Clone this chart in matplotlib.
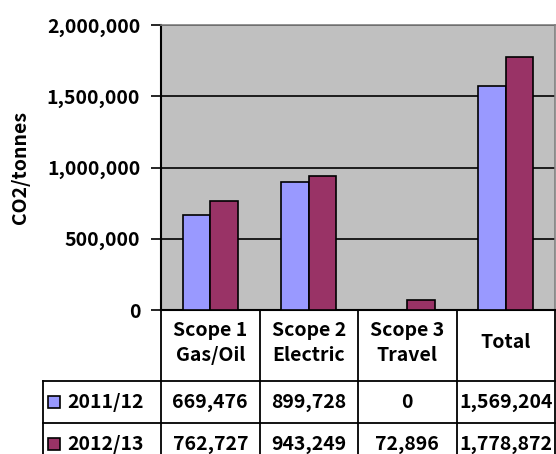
import matplotlib
matplotlib.use("Agg")
import matplotlib.pyplot as plt
from matplotlib.patches import Rectangle
import numpy as np

categories = ["Scope 1\nGas/Oil", "Scope 2\nElectric", "Scope 3\nTravel", "Total"]
series_names = ["2011/12", "2012/13"]
values_2011 = [669476, 899728, 0, 1569204]
values_2012 = [762727, 943249, 72896, 1778872]
yticks = [0, 500000, 1000000, 1500000, 2000000]
ylabel = "CO2/tonnes"

colors = ["#9999FF", "#993366"]
FONT = ["Noto Sans CJK SC", "DejaVu Sans"]
FS = 14

W, H = 556, 454
fig = plt.figure(figsize=(W / 100, H / 100), dpi=100)
L, R, T, B = 161, 555, 25, 310
ax = fig.add_axes([L / W, 1 - B / H, (R - L) / W, (B - T) / H])
ax.set_facecolor("#C0C0C0")

x = np.arange(len(categories))
bw = 0.28
ax.bar(x - bw / 2, values_2011, bw, color=colors[0], edgecolor="black", linewidth=1.2, zorder=3)
ax.bar(x + bw / 2, values_2012, bw, color=colors[1], edgecolor="black", linewidth=1.2, zorder=3)
ax.set_xlim(-0.5, len(categories) - 0.5)
ax.set_ylim(0, 2000000)
ax.set_yticks(yticks)
ax.set_yticklabels([f"{v:,}" for v in yticks], fontfamily=FONT, fontweight="bold", fontsize=FS)
ax.yaxis.grid(True, color="black", linewidth=1.2, zorder=1)
ax.set_xticks([])
ax.tick_params(axis="y", length=7, width=1.2, pad=8)
for s in ["top", "right"]:
    ax.spines[s].set_color("#808080")
    ax.spines[s].set_linewidth(1.2)
ax.spines["left"].set_linewidth(1.5)
ax.spines["bottom"].set_linewidth(1.5)
ax.set_ylabel(ylabel, fontfamily=FONT, fontweight="bold", fontsize=14, labelpad=12)

# data table below the plot (x in data units, y in axes units)
tr = ax.get_xaxis_transform()
ppu = B - T  # pixels per axes unit in y
def yax(py):
    return -(py - B) / ppu
px_per_x = (R - L) / len(categories)
leg_left = -0.5 - (L - 43) / px_per_x
y_head_bot = yax(381)
y_row1_bot = yax(423)
y_bot = yax(470)
lw = 1.3
for i in range(len(categories) + 1):
    ax.plot([i - 0.5, i - 0.5], [0, y_bot], transform=tr, color="black", lw=lw, clip_on=False)
ax.plot([leg_left, leg_left], [y_head_bot, y_bot], transform=tr, color="black", lw=lw, clip_on=False)
for yy in [y_head_bot, y_row1_bot]:
    ax.plot([leg_left, len(categories) - 0.5], [yy, yy], transform=tr, color="black", lw=lw, clip_on=False)

ymid_head = yax(343)
for i, c in enumerate(categories):
    ax.text(i, ymid_head, c, transform=tr, ha="center", va="center", fontfamily=FONT,
            fontweight="bold", fontsize=FS, linespacing=1.45, clip_on=False)

rows = [values_2011, values_2012]
row_mid = [(y_head_bot + y_row1_bot) / 2, (y_row1_bot + yax(465)) / 2]
for r, vals in enumerate(rows):
    for i, v in enumerate(vals):
        ax.text(i, row_mid[r], f"{v:,}", transform=tr, ha="center", va="center", fontfamily=FONT,
                fontweight="bold", fontsize=FS, clip_on=False)
    sq_w = 12 / px_per_x
    sq_h = 12 / ppu
    kx = leg_left + 5 / px_per_x
    ax.add_patch(Rectangle((kx, row_mid[r] - sq_h / 2), sq_w, sq_h, transform=tr,
                           facecolor=colors[r], edgecolor="black", lw=1.2, clip_on=False))
    ax.text(leg_left + 24 / px_per_x, row_mid[r], series_names[r], transform=tr, ha="left",
            va="center", fontfamily=FONT, fontweight="bold", fontsize=FS, clip_on=False)

fig.savefig("out.png", dpi=100)
